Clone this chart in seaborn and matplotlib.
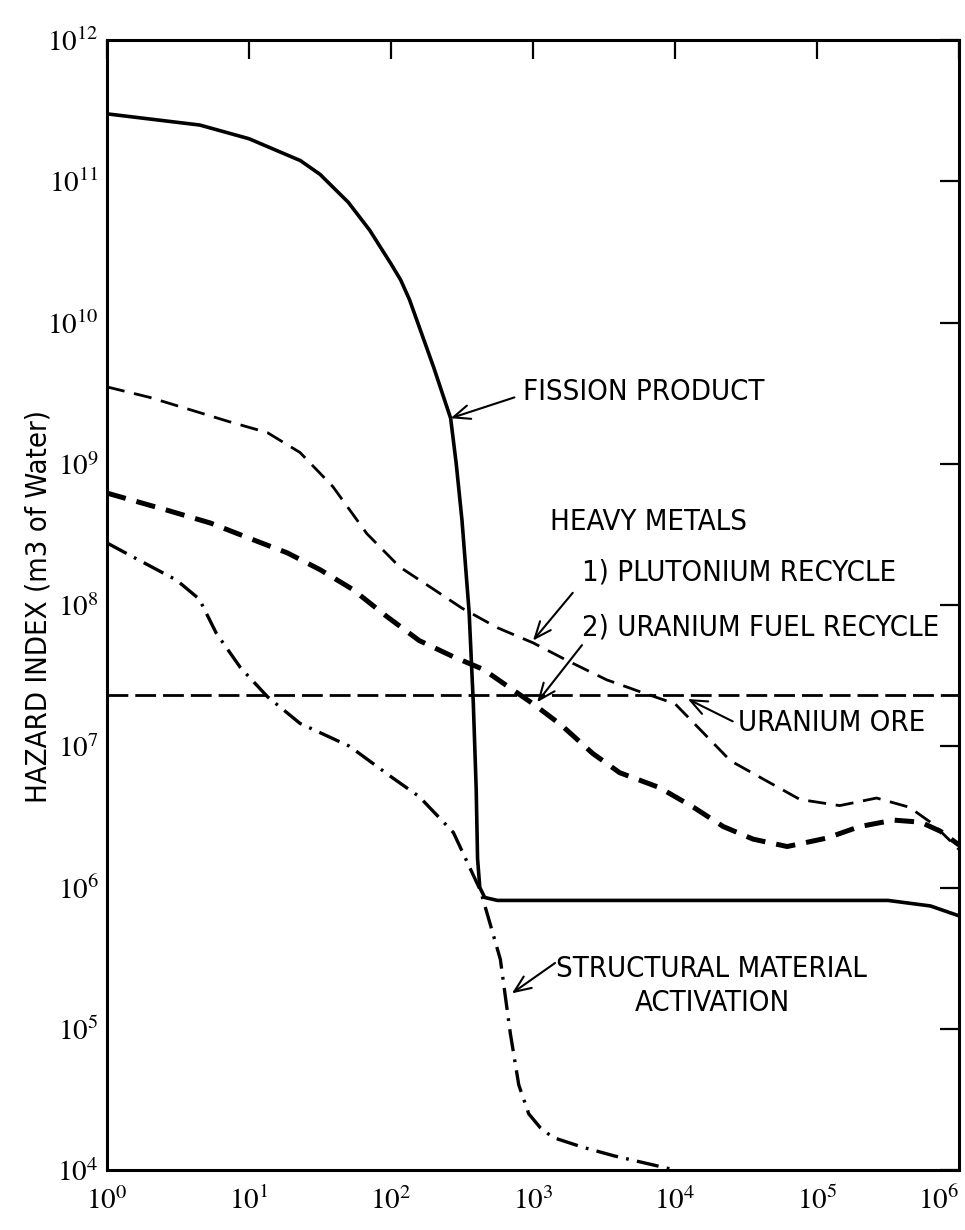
import matplotlib
matplotlib.use("Agg")
import matplotlib.pyplot as plt
import seaborn as sns
import numpy as np

# ---------------- data ----------------
fission_t = [1, 4.5, 10, 23, 31.6, 50, 70.8, 100, 117, 135, 200, 263, 288, 316, 355, 380, 398, 407, 422, 457,
             562, 3.16e5, 6.3e5, 1e6]
fission_h = [3.0e11, 2.5e11, 2.0e11, 1.4e11, 1.12e11, 7.1e10, 4.5e10, 2.6e10, 2.0e10, 1.45e10, 4.8e9,
             2.1e9, 1.0e9, 4.0e8, 8.9e7, 2.0e7, 5.0e6, 1.6e6, 1.0e6, 8.5e5, 8.1e5, 8.1e5, 7.4e5, 6.3e5]

pu_t = [1, 2.0, 3.43, 7.08, 13.5, 22.9, 38.9, 67.6, 115, 200, 316, 562, 1000, 1778, 3311, 5888,
        1e4, 14125, 24550, 46770, 75860, 144500, 263000, 446700, 660700, 1e6]
pu_h = [3.5e9, 2.95e9, 2.5e9, 2.0e9, 1.66e9, 1.2e9, 6.9e8, 3.2e8, 1.86e8, 1.29e8, 9.5e7, 6.9e7, 5.4e7,
        4.0e7, 2.95e7, 2.4e7, 2.0e7, 1.4e7, 7.9e6, 5.5e6, 4.2e6, 3.8e6, 4.3e6, 3.7e6, 2.8e6, 1.86e6]

u_t = [1, 2.63, 5.37, 10.2, 18.6, 31.6, 53.7, 93.3, 158, 275, 447, 724, 1000, 1585, 2630, 4074, 7762,
       13490, 21880, 35480, 61660, 117500, 199500, 346700, 537000, 741300, 1e6]
u_h = [6.2e8, 4.7e8, 3.8e8, 2.95e8, 2.34e8, 1.78e8, 1.29e8, 8.3e7, 5.6e7, 4.3e7, 3.5e7, 2.5e7, 2.0e7,
       1.41e7, 8.9e6, 6.5e6, 5.1e6, 3.7e6, 2.7e6, 2.2e6, 1.95e6, 2.24e6, 2.7e6, 3.0e6, 2.9e6, 2.5e6, 2.0e6]

ore_t = [1, 1e6]
ore_h = [2.3e7, 2.3e7]

struct_t = [1, 1.51, 3.09, 4.47, 5.89, 8.71, 13.5, 22.9, 51, 102, 158, 275, 427, 589, 692, 794, 933,
            1122, 1380, 2239, 3715, 1e4]
struct_h = [2.75e8, 2.2e8, 1.5e8, 1.1e8, 6.3e7, 3.6e7, 2.24e7, 1.45e7, 1.0e7, 6.0e6, 4.4e6, 2.45e6,
            9.5e5, 3.1e5, 9.3e4, 4.0e4, 2.5e4, 2.0e4, 1.7e4, 1.45e4, 1.26e4, 1.0e4]

x_ticks = [1e0, 1e1, 1e2, 1e3, 1e4, 1e5, 1e6]
x_tick_labels = [r"$10^{0}$", r"$10^{1}$", r"$10^{2}$", r"$10^{3}$", r"$10^{4}$", r"$10^{5}$", r"$10^{6}$"]
y_ticks = [1e4, 1e5, 1e6, 1e7, 1e8, 1e9, 1e10, 1e11, 1e12]
y_tick_labels = [r"$10^{4}$", r"$10^{5}$", r"$10^{6}$", r"$10^{7}$", r"$10^{8}$", r"$10^{9}$",
                 r"$10^{10}$", r"$10^{11}$", r"$10^{12}$"]

y_label = "HAZARD INDEX (m3 of Water)"

# ---------------- style ----------------
sns.set_style("white")
plt.rcParams["font.family"] = ["DejaVu Sans"]
plt.rcParams["font.stretch"] = "condensed"
plt.rcParams["mathtext.fontset"] = "stix"
plt.rcParams["lines.scale_dashes"] = False
plt.rcParams["text.color"] = "black"

fig = plt.figure(figsize=(9.65, 12.3), dpi=100)
W, H = 965.0, 1230.0
ax = fig.add_axes([107 / W, 1 - 1170 / H, (959 - 107) / W, (1170 - 40) / H])
ax.set_xscale("log")
ax.set_yscale("log")

common = dict(ax=ax, color="black", estimator=None, sort=False, errorbar=None, legend=False)
sns.lineplot(x=fission_t, y=fission_h, linewidth=2.6, linestyle="-", **common)
sns.lineplot(x=pu_t, y=pu_h, linewidth=2.0, linestyle=(0, (13, 7)), **common)
sns.lineplot(x=u_t, y=u_h, linewidth=3.6, linestyle=(0, (14, 8)), **common)
sns.lineplot(x=ore_t, y=ore_h, linewidth=2.0, linestyle=(0, (15, 5)), **common)
sns.lineplot(x=struct_t, y=struct_h, linewidth=2.4, linestyle=(0, (16, 6, 2, 6)), **common)

ax.set_xlim(1, 1e6)
ax.set_ylim(1e4, 1e12)
ax.set_xticks(x_ticks)
ax.set_xticklabels(x_tick_labels)
ax.set_yticks(y_ticks)
ax.set_yticklabels(y_tick_labels)
ax.minorticks_off()
ax.tick_params(axis="both", which="major", direction="in", length=14, width=1.6,
               top=True, right=True, labelsize=21, colors="black")
ax.tick_params(axis="x", pad=12)
ax.tick_params(axis="y", pad=6)
ax.get_xticklabels()[-1].set_horizontalalignment("right")
for s in ax.spines.values():
    s.set_linewidth(2.2)
    s.set_color("black")
ax.set_xlabel("")
ax.set_ylabel("")

fig.text(39 / W, 1 - 607 / H, y_label, rotation=90, ha="center", va="center", fontsize=21,
         color="black")

# ---------------- annotations ----------------
tfs = 21
arrow = dict(arrowstyle="->,head_length=0.6,head_width=0.25", color="black", lw=1.5,
             mutation_scale=20, shrinkA=0, shrinkB=0)

ax.text(850, 3.2e9, "FISSION PRODUCT", fontsize=tfs, ha="left", va="center", color="black")
ax.annotate("", xy=(263, 2.1e9), xytext=(740, 2.95e9), arrowprops=arrow)

ax.text(1318, 3.9e8, "HEAVY METALS", fontsize=tfs, ha="left", va="center", color="black")
ax.text(2213, 1.69e8, "1) PLUTONIUM RECYCLE", fontsize=tfs, ha="left", va="center", color="black")
ax.text(2213, 6.98e7, "2) URANIUM FUEL RECYCLE", fontsize=tfs, ha="left", va="center", color="black")
ax.annotate("", xy=(1000, 5.6e7), xytext=(1905, 1.22e8), arrowprops=arrow)
ax.annotate("", xy=(1070, 2.05e7), xytext=(2213, 5.2e7), arrowprops=arrow)

ax.text(27700, 1.46e7, "URANIUM ORE", fontsize=tfs, ha="left", va="center", color="black")
ax.annotate("", xy=(12300, 2.16e7), xytext=(25500, 1.5e7), arrowprops=arrow)

ax.text(18200, 2.0e5, "STRUCTURAL MATERIAL\nACTIVATION", fontsize=tfs, ha="center", va="center",
        multialignment="center", linespacing=1.25, color="black")
ax.annotate("", xy=(710, 1.78e5), xytext=(1430, 2.92e5), arrowprops=arrow)

fig.savefig("out.png", dpi=100, facecolor="white")
